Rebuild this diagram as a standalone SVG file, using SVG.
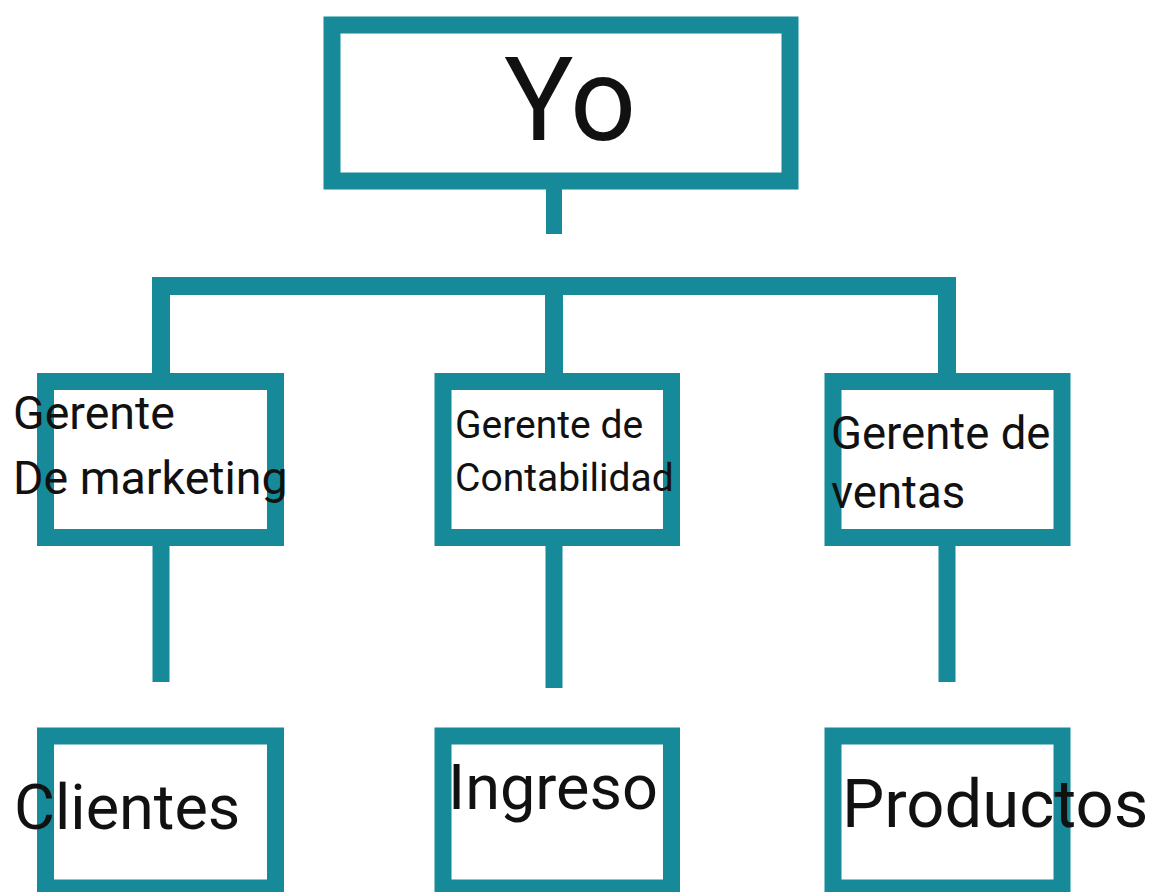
<svg xmlns="http://www.w3.org/2000/svg" width="1154" height="892" viewBox="0 0 1154 892">
<style>
.box{fill:#ffffff;stroke:#168a98;stroke-width:17}
.ln{fill:none;stroke:#168a98;stroke-linecap:butt}
text{font-family:Roboto,"Noto Sans",sans-serif;fill:#111111}
</style>
<rect x="0" y="0" width="1154" height="892" fill="#ffffff"/>
<g id="connectors">
<path class="ln" stroke-width="16" d="M554 189 V234"/>
<path class="ln" stroke-width="18" d="M152 286 H956 M161 277 V373 M554 286 V373 M947 277 V373"/>
<path class="ln" stroke-width="17" d="M161 546 V682 M554 546 V688 M947 546 V682"/>
</g>
<g id="node-yo">
<rect class="box" x="332" y="25" width="458" height="156"/>
<text x="504" y="140" font-size="116">Yo</text>
</g>
<g id="node-marketing">
<rect class="box" x="45.5" y="381.5" width="230" height="156"/>
<text x="13" y="429" font-size="46.5">Gerente</text>
<text x="13" y="494" font-size="46.5">De marketing</text>
</g>
<g id="node-contabilidad">
<rect class="box" x="443" y="381.5" width="228.5" height="156"/>
<text x="455" y="438" font-size="39">Gerente de</text>
<text x="455" y="491" font-size="39">Contabilidad</text>
</g>
<g id="node-ventas">
<rect class="box" x="833" y="381.5" width="229" height="156"/>
<text x="831" y="449" font-size="45.5">Gerente de</text>
<text x="831" y="508" font-size="45.5">ventas</text>
</g>
<g id="node-clientes">
<rect class="box" x="45.5" y="736" width="230" height="152"/>
<text x="14" y="829" font-size="63">Clientes</text>
</g>
<g id="node-ingreso">
<rect class="box" x="443" y="736" width="228.5" height="152"/>
<text x="448" y="809" font-size="63">Ingreso</text>
</g>
<g id="node-productos">
<rect class="box" x="833" y="736" width="229" height="152"/>
<text x="842" y="827" font-size="67">Productos</text>
</g>
</svg>
